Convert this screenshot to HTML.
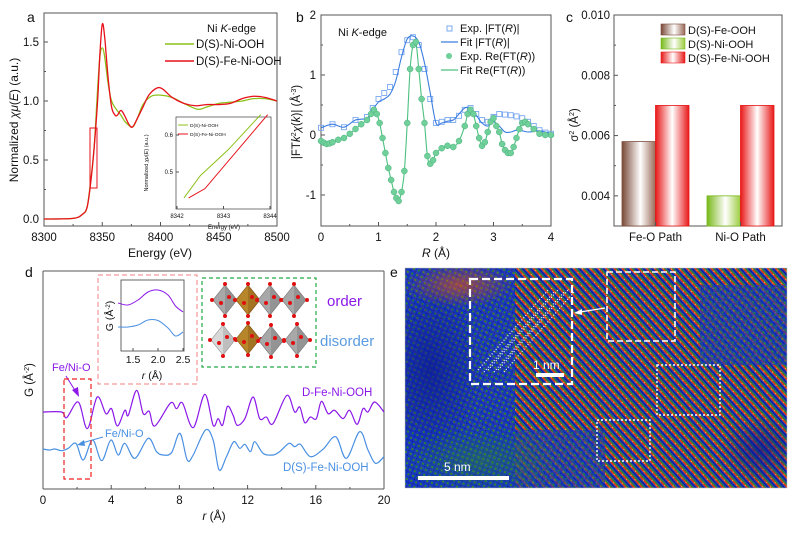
<!DOCTYPE html>
<html><head><meta charset="utf-8"><style>
html,body{margin:0;padding:0;background:#fff;}
svg{display:block;font-family:"Liberation Sans",Arial,sans-serif;}
</style></head><body>
<svg id="fig" width="800" height="534" viewBox="0 0 800 534" xmlns="http://www.w3.org/2000/svg">
<defs>
<linearGradient id="gBrown" x1="0" x2="1" y1="0" y2="0"><stop offset="0" stop-color="#7a4a38"/><stop offset="0.55" stop-color="#ffffff"/><stop offset="1" stop-color="#9a6a58"/></linearGradient>
<linearGradient id="gGreen" x1="0" x2="1" y1="0" y2="0"><stop offset="0" stop-color="#78b81a"/><stop offset="0.55" stop-color="#ffffff"/><stop offset="1" stop-color="#9ccc40"/></linearGradient>
<linearGradient id="gRed" x1="0" x2="1" y1="0" y2="0"><stop offset="0" stop-color="#e81818"/><stop offset="0.5" stop-color="#ffffff"/><stop offset="1" stop-color="#e81818"/></linearGradient>
<pattern id="stripes" width="6" height="6" patternUnits="userSpaceOnUse" patternTransform="rotate(-42)">
<rect width="6" height="6" fill="#1838c8"/>
<rect x="0" y="0" width="1.8" height="6" fill="#e83a10"/>
<rect x="1.8" y="0" width="1.4" height="6" fill="#2a8c2a"/>
<rect x="4.2" y="0" width="0.8" height="6" fill="#0c1a80"/>
<rect x="0.5" y="1" width="0.9" height="1" fill="#ffd040"/>
</pattern>
<pattern id="dots" width="5" height="5" patternUnits="userSpaceOnUse" patternTransform="rotate(20)">
<rect width="5" height="5" fill="#1434c8"/>
<rect x="0" y="0" width="2" height="2" fill="#2d8a2d"/>
<rect x="3" y="3" width="1" height="1" fill="#0a1a70"/>
</pattern>
<radialGradient id="blueDark" cx="0.5" cy="0.5" r="0.5"><stop offset="0" stop-color="#0a1890" stop-opacity="0.7"/><stop offset="1" stop-color="#0a1890" stop-opacity="0"/></radialGradient>
<radialGradient id="orangeTop" cx="0.5" cy="0.5" r="0.5"><stop offset="0" stop-color="#e85010" stop-opacity="0.6"/><stop offset="1" stop-color="#e85010" stop-opacity="0"/></radialGradient>
<radialGradient id="greenMid" cx="0.5" cy="0.5" r="0.5"><stop offset="0" stop-color="#2d8a2d" stop-opacity="0.45"/><stop offset="1" stop-color="#2d8a2d" stop-opacity="0"/></radialGradient>
<clipPath id="clipE"><rect x="405" y="268" width="382" height="220"/></clipPath>
<clipPath id="clipLeft"><rect x="405" y="268" width="110" height="220"/></clipPath>
</defs>
<g id="layer"></g>
</svg>
<script>
// ===== Panel a data =====
const aEnergyRed = [8300,8325,8333,8337,8340,8343,8346,8348,8350,8352,8355,8358,8361,8363,8366,8369,8373,8376,8380,8385,8390,8397,8402,8410,8420,8430,8440,8450,8460,8470,8480,8490,8500];
const aMuRed     = [0,0.005,0.04,0.1,0.3,0.6,1.0,1.4,1.65,1.55,1.2,0.95,0.88,0.88,0.92,0.88,0.8,0.78,0.85,0.95,1.05,1.11,1.1,1.03,0.98,0.96,0.97,0.97,0.98,1.02,1.04,1.03,1.0];
const aEnergyGreen = [8300,8325,8333,8337,8340,8343,8346,8348,8350,8352,8355,8358,8362,8366,8370,8376,8380,8385,8392,8400,8410,8420,8432,8440,8450,8460,8470,8480,8490,8500];
const aMuGreen     = [0,0.005,0.04,0.1,0.32,0.6,1.1,1.38,1.45,1.38,1.15,1.0,0.93,0.88,0.82,0.78,0.85,0.97,1.04,1.05,1.03,0.98,0.93,0.95,0.98,0.99,1.0,1.02,1.02,1.0];
const aXTicks = [8300,8350,8400,8450,8500];
const aYTicks = [0.0,0.5,1.0,1.5];
const insetEGreen = [8342.15,8342.5,8343.1,8343.8];
const insetMuGreen = [0.43,0.49,0.56,0.655];
const insetERed = [8342.25,8342.6,8343.95];
const insetMuRed = [0.43,0.455,0.655];
const insetXTicks = [8342,8343,8344];
const insetYTicks = [0.5,0.6];
// ===== Panel b data =====
const bR_abs = [0,0.2,0.4,0.6,0.8,0.9,1.0,1.1,1.2,1.3,1.4,1.5,1.6,1.7,1.8,1.9,2.0,2.1,2.2,2.3,2.4,2.5,2.6,2.7,2.8,2.9,3.0,3.1,3.2,3.3,3.4,3.5,3.6,3.7,3.8,3.9,4.0];
const bExpAbs = [0.12,0.18,0.13,0.25,0.3,0.45,0.6,0.7,0.8,1.05,1.38,1.58,1.63,1.5,1.1,0.6,0.2,0.22,0.25,0.25,0.32,0.42,0.45,0.35,0.25,0.22,0.3,0.35,0.34,0.33,0.31,0.28,0.22,0.15,0.08,0.04,0.02];
const bFitAbs = [0.12,0.18,0.13,0.25,0.28,0.42,0.55,0.6,0.68,0.9,1.3,1.6,1.65,1.55,1.2,0.7,0.2,0.2,0.23,0.25,0.35,0.45,0.45,0.33,0.2,0.15,0.22,0.15,0.05,0.05,0.08,0.07,0.05,0.06,0.07,0.05,0.02];
const bR_re = [0,0.05,0.1,0.15,0.2,0.3,0.4,0.5,0.6,0.7,0.8,0.87,0.92,0.97,1.02,1.07,1.12,1.17,1.22,1.27,1.31,1.35,1.4,1.45,1.5,1.55,1.6,1.65,1.7,1.75,1.8,1.85,1.9,1.95,2.0,2.1,2.2,2.3,2.4,2.5,2.55,2.6,2.65,2.7,2.75,2.8,2.85,2.9,2.95,3.0,3.05,3.1,3.15,3.2,3.25,3.3,3.35,3.4,3.45,3.5,3.55,3.6,3.7,3.8,3.9,4.0];
const bExpRe = [-0.1,-0.13,-0.15,-0.14,-0.12,-0.08,-0.05,0.02,0.1,0.18,0.25,0.35,0.42,0.35,0.2,-0.05,-0.3,-0.55,-0.75,-0.95,-1.05,-1.1,-0.95,-0.6,0.2,1.1,1.5,1.55,1.1,0.6,0.2,-0.35,-0.48,-0.42,-0.3,-0.22,-0.18,-0.2,-0.1,0.15,0.35,0.42,0.35,0.15,-0.05,-0.18,-0.12,0.05,0.22,0.28,0.15,0.05,-0.15,-0.25,-0.3,-0.3,-0.2,-0.05,0.1,0.2,0.22,0.18,0.1,0.02,0.0,0.0];
const bXTicks = [0,1,2,3,4];
const bYTicks = [-1,0,1,2];
// ===== Panel c data =====
const cCategories = ["Fe-O Path","Ni-O Path"];
const cSeries1 = [0.0058,0.0040];
const cSeries2 = [0.0070,0.0070];
const cYTicks = [0.004,0.006,0.008,0.010];
// ===== Panel d data =====
const dR_purple = [0,1.09,1.39,2.07,2.6,3.18,3.69,4.02,4.36,4.8,5.0,5.49,5.88,6.23,6.56,7.48,7.83,8.18,8.81,9.49,9.98,10.27,10.53,10.82,11.15,11.39,11.84,12.32,12.71,13.1,13.49,14.3,14.76,15.06,15.35,15.68,16.03,16.33,16.72,17.1,17.6,17.98,18.42,18.77,19.06,19.45,20];
const dG_purple = [0,0,-1.7,3.0,-5.0,4.5,-0.5,1.0,-4.2,0.5,-1.0,6.5,-0.5,0.2,-4.2,2.7,1.0,2.7,-4.7,5.3,-4.0,-2.0,-4.0,1.7,-1.0,-4.0,-2.0,4.5,-2.0,-1.5,-3.5,5.0,0,1.5,-3.2,-1.5,-2.0,3.2,-0.5,0.5,-2.0,0.5,-3.7,1.0,0,3.0,0];
const dR_blue = [0,0.4,0.7,1.1,1.48,1.93,2.36,2.91,3.44,3.98,4.41,4.8,5.39,6.17,6.66,7.05,7.54,8.03,8.46,8.81,9.53,9.98,10.33,10.76,11.19,11.54,11.84,12.17,12.42,12.91,13.49,13.88,14.43,14.76,15.1,15.68,16.42,17.17,17.79,18.57,19.06,19.5,20];
const dG_blue = [0.3,0,0.3,-0.2,0.5,2.0,-3.0,3.0,-3.2,3.0,-1.5,2.0,-2.5,3.5,-0.5,-1.5,-0.8,5.0,-3.0,-1.5,6.0,3.0,-6.0,-2.0,2.5,0.5,1.7,-0.5,2.5,-1.0,-1.5,-0.5,2.0,1.0,1.7,-2.0,0.2,4.0,-2.5,5.5,0,-4.0,-2.0];
const dXTicks = [0,4,8,12,16,20];
const insetDR = [1.2,1.4,1.6,1.8,2.0,2.2,2.35,2.5];
const insetDPurple = [0.0,-0.2,0.3,1.1,1.3,0.8,-0.3,-0.9];
const insetDBlue = [-2.4,-2.4,-2.2,-1.7,-1.75,-2.5,-3.3,-2.9];
const insetDXTicks = [1.5,2.0,2.5];

const NS='http://www.w3.org/2000/svg';
const L=document.getElementById('layer');
function mk(tag,attrs,parent){const e=document.createElementNS(NS,tag);for(const k in attrs)e.setAttribute(k,attrs[k]);(parent||L).appendChild(e);return e;}
function txt(x,y,s,size,attrs,parent){const e=mk('text',Object.assign({x:x,y:y,'font-size':size,fill:'#111'},attrs||{}),parent);e.innerHTML=s;return e;}
function lin(d0,d1,r0,r1){return v=>r0+(v-d0)/(d1-d0)*(r1-r0);}
function smooth(pts){let d='M'+pts[0][0].toFixed(2)+','+pts[0][1].toFixed(2);for(let i=0;i<pts.length-1;i++){const p0=pts[i-1]||pts[i],p1=pts[i],p2=pts[i+1],p3=pts[i+2]||p2;const c1=[p1[0]+(p2[0]-p0[0])/6,p1[1]+(p2[1]-p0[1])/6],c2=[p2[0]-(p3[0]-p1[0])/6,p2[1]-(p3[1]-p1[1])/6];d+='C'+c1[0].toFixed(2)+','+c1[1].toFixed(2)+' '+c2[0].toFixed(2)+','+c2[1].toFixed(2)+' '+p2[0].toFixed(2)+','+p2[1].toFixed(2);}return d;}
function frame(x0,y0,x1,y1,g){mk('rect',{x:x0,y:y0,width:x1-x0,height:y1-y0,fill:'none',stroke:'#555','stroke-width':1},g);}

// ===== Panel a =====
const ga=mk('g',{});
const ax=lin(8300,8500,44,277), ay=lin(0,1.5,219,42);
frame(44,13,277,226,ga);
aXTicks.forEach(v=>{mk('line',{x1:ax(v),x2:ax(v),y1:226,y2:222,stroke:'#555'},ga);const t=txt(ax(v),241,v,11.5,{'text-anchor':'middle'},ga);});
[8325,8375,8425,8475].forEach(v=>mk('line',{x1:ax(v),x2:ax(v),y1:226,y2:224,stroke:'#555'},ga));
aYTicks.forEach(v=>{mk('line',{x1:44,x2:48,y1:ay(v),y2:ay(v),stroke:'#555'},ga);const t=txt(39,ay(v)+4,v.toFixed(1),11.5,{'text-anchor':'end'},ga);});
[0.25,0.75,1.25].forEach(v=>mk('line',{x1:44,x2:46,y1:ay(v),y2:ay(v),stroke:'#555'},ga));
let t=txt(160,257,'Energy (eV)',12,{'text-anchor':'middle'},ga);
t=txt(0,0,'Normalized <tspan font-style="italic">χμ</tspan>(<tspan font-style="italic">E</tspan>) (a.u.)',12,{'text-anchor':'middle',transform:'translate(18,120) rotate(-90)'},ga);
let p=mk('path',{d:smooth(aEnergyGreen.map((e,i)=>[ax(e),ay(aMuGreen[i])])),fill:'none',stroke:'#8cc21a','stroke-width':1.3},ga);
p=mk('path',{d:smooth(aEnergyRed.map((e,i)=>[ax(e),ay(aMuRed[i])])),fill:'none',stroke:'#e8101a','stroke-width':1.3},ga);
p=mk('rect',{x:90,y:128,width:7,height:60,fill:'none',stroke:'#e8101a','stroke-width':1},ga);
txt(207,32,'Ni <tspan font-style="italic">K</tspan>-edge',11,{},ga);
mk('line',{x1:165,x2:194,y1:44,y2:44,stroke:'#8cc21a','stroke-width':1.5},ga);
t=txt(196,48,'D(S)-Ni-OOH',11.5,{},ga);
mk('line',{x1:165,x2:194,y1:61,y2:61,stroke:'#e8101a','stroke-width':1.5},ga);
t=txt(196,65,'D(S)-Fe-Ni-OOH',11.5,{},ga);
const gi=mk('g',{},ga);
const ix=lin(8342,8344,177,270), iy=lin(0.5,0.6,172,135);
mk('rect',{x:176,y:117,width:95,height:92,fill:'#fff',stroke:'#555','stroke-width':0.8},gi);
insetXTicks.forEach(v=>{mk('line',{x1:ix(v),x2:ix(v),y1:209,y2:206,stroke:'#555'},gi);txt(ix(v),218,v,6,{'text-anchor':'middle'},gi);});
insetYTicks.forEach(v=>{mk('line',{x1:176,x2:179,y1:iy(v),y2:iy(v),stroke:'#555'},gi);txt(173,iy(v)+2,v.toFixed(1),6,{'text-anchor':'end'},gi);});
txt(224,221+8,'Energy (eV)',6,{'text-anchor':'middle'},gi);
txt(0,0,'Normalized <tspan font-style="italic">χμ</tspan>(<tspan font-style="italic">E</tspan>) (a.u.)',5.5,{'text-anchor':'middle',transform:'translate(148,163) rotate(-90)'},gi);
mk('polyline',{points:insetEGreen.map((e,i)=>ix(e)+','+iy(insetMuGreen[i])).join(' '),fill:'none',stroke:'#8cc21a','stroke-width':1},gi);
mk('polyline',{points:insetERed.map((e,i)=>ix(e)+','+iy(insetMuRed[i])).join(' '),fill:'none',stroke:'#e8101a','stroke-width':1},gi);
mk('line',{x1:178,x2:188,y1:125,y2:125,stroke:'#8cc21a'},gi);txt(190,127,'D(S)-Ni-OOH',4.8,{},gi);
mk('line',{x1:178,x2:188,y1:134,y2:134,stroke:'#e8101a'},gi);txt(190,136,'D(S)-Fe-Ni-OOH',4.8,{},gi);

// ===== Panel b =====
const gb=mk('g',{});
const bx=lin(0,4,321,551), by=lin(0,1,135,75);
frame(321,15,551,226,gb);
bXTicks.forEach(v=>{mk('line',{x1:bx(v),x2:bx(v),y1:226,y2:222,stroke:'#555'},gb);t=txt(bx(v),241,v,11.5,{'text-anchor':'middle'},gb);});
[0.5,1.5,2.5,3.5].forEach(v=>mk('line',{x1:bx(v),x2:bx(v),y1:226,y2:224,stroke:'#555'},gb));
bYTicks.forEach(v=>{mk('line',{x1:321,x2:325,y1:by(v),y2:by(v),stroke:'#555'},gb);t=txt(316,by(v)+4,v,11.5,{'text-anchor':'end'},gb);});
[-0.5,0.5,1.5].forEach(v=>mk('line',{x1:321,x2:323,y1:by(v),y2:by(v),stroke:'#555'},gb));
t=txt(436,257,'<tspan font-style="italic">R</tspan> (Å)',12,{'text-anchor':'middle'},gb);
t=txt(0,0,'|FT<tspan font-style="italic">k</tspan><tspan font-size="7" dy="-4">2</tspan><tspan dy="4" font-style="italic">χ</tspan>(<tspan font-style="italic">k</tspan>)| (Å<tspan font-size="7" dy="-4">-3</tspan><tspan dy="4">)</tspan>',11.5,{'text-anchor':'middle',transform:'translate(300,122) rotate(-90)'},gb);
bR_abs.forEach((r,i)=>{const q=mk('rect',{x:bx(r)-2.5,y:by(bExpAbs[i])-2.5,width:5,height:5,fill:'none',stroke:'#7aa8f0','stroke-width':0.9},gb);});
p=mk('path',{d:smooth(bR_abs.map((r,i)=>[bx(r),by(bFitAbs[i])])),fill:'none',stroke:'#3b7de0','stroke-width':1.1},gb);
p=mk('path',{d:smooth(bR_re.map((r,i)=>[bx(r),by(bExpRe[i])])),fill:'none',stroke:'#4cc080','stroke-width':1.1},gb);
bR_re.forEach((r,i)=>{const c=mk('circle',{cx:bx(r),cy:by(bExpRe[i]),r:3,fill:'#6fd09a',stroke:'#4cb07e','stroke-width':0.5},gb);});
txt(338,36,'Ni <tspan font-style="italic">K</tspan>-edge',11,{},gb);
mk('rect',{x:447,y:26,width:5,height:5,fill:'none',stroke:'#7aa8f0'},gb);
t=txt(460,32,'Exp. |FT(<tspan font-style="italic">R</tspan>)|',11,{},gb);
mk('line',{x1:441,x2:458,y1:42,y2:42,stroke:'#3b7de0','stroke-width':1.2},gb);
t=txt(460,46,'Fit |FT(<tspan font-style="italic">R</tspan>)|',11,{},gb);
mk('circle',{cx:449,cy:56,r:3,fill:'#6fd09a'},gb);
t=txt(460,60,'Exp. Re(FT(<tspan font-style="italic">R</tspan>))',11,{},gb);
mk('line',{x1:441,x2:458,y1:70,y2:70,stroke:'#4cc080','stroke-width':1.2},gb);
t=txt(460,74,'Fit Re(FT(<tspan font-style="italic">R</tspan>))',11,{},gb);

// ===== Panel c =====
const gc=mk('g',{});
const cy=lin(0.003,0.010,226,15);
const cBandX=i=>622+i*85; const barW=33.5;
frame(614,15,782,226,gc);
cYTicks.forEach(v=>{mk('line',{x1:614,x2:618,y1:cy(v),y2:cy(v),stroke:'#555'},gc);t=txt(610,cy(v)+4,v.toFixed(3),11.5,{'text-anchor':'end'},gc);});
[0.005,0.007,0.009].forEach(v=>mk('line',{x1:614,x2:616,y1:cy(v),y2:cy(v),stroke:'#555'},gc));
const c1fill=['url(#gBrown)','url(#gGreen)'], c1stroke=['#7a4a38','#78b81a'];
cCategories.forEach((c,i)=>{
 const x0=cBandX(i);
 let r=mk('rect',{x:x0,y:cy(cSeries1[i]),width:barW,height:226-cy(cSeries1[i]),fill:c1fill[i],stroke:c1stroke[i],'stroke-width':0.8},gc);
 
 r=mk('rect',{x:x0+barW,y:cy(cSeries2[i]),width:barW,height:226-cy(cSeries2[i]),fill:'url(#gRed)',stroke:'#e81818','stroke-width':0.8},gc);
 
 mk('line',{x1:x0+barW,x2:x0+barW,y1:226,y2:222,stroke:'#555'},gc);
 t=txt(x0+barW,241,c,11.5,{'text-anchor':'middle'},gc);
});
t=txt(0,0,'σ<tspan font-size="7" dy="-4">2</tspan><tspan dy="4"> (Å</tspan><tspan font-size="7" dy="-4">2</tspan><tspan dy="4">)</tspan>',11.5,{'text-anchor':'middle',transform:'translate(578,125) rotate(-90)'},gc);
[['url(#gBrown)','#7a4a38','D(S)-Fe-OOH'],['url(#gGreen)','#78b81a','D(S)-Ni-OOH'],['url(#gRed)','#e81818','D(S)-Fe-Ni-OOH']].forEach((l,i)=>{
 mk('rect',{x:661,y:24+i*14,width:24,height:11,fill:l[0],stroke:l[1],'stroke-width':0.6},gc);
 t=txt(688,34+i*14,l[2],11,{},gc);
});

// ===== Panel d =====
const gd=mk('g',{});
const dx=lin(0,20,43,384), gScale=3.33;
mk('line',{x1:43,x2:43,y1:271,y2:489,stroke:'#555'},gd);
mk('line',{x1:43,x2:384,y1:489,y2:489,stroke:'#555'},gd);
mk('line',{x1:43,x2:384,y1:271,y2:271,stroke:'#555'},gd);
mk('line',{x1:384,x2:384,y1:271,y2:489,stroke:'#555'},gd);
dXTicks.forEach(v=>{mk('line',{x1:dx(v),x2:dx(v),y1:489,y2:485,stroke:'#555'},gd);t=txt(dx(v),504,v,11.5,{'text-anchor':'middle'},gd);});
[2,6,10,14,18].forEach(v=>mk('line',{x1:dx(v),x2:dx(v),y1:489,y2:487,stroke:'#555'},gd));
t=txt(214,520,'<tspan font-style="italic">r</tspan> (Å)',12,{'text-anchor':'middle'},gd);
t=txt(0,0,'G (Å<tspan font-size="7" dy="-4">-2</tspan><tspan dy="4">)</tspan>',11.5,{'text-anchor':'middle',transform:'translate(33,380) rotate(-90)'},gd);
p=mk('path',{d:smooth(dR_purple.map((r,i)=>[dx(r),412-dG_purple[i]*gScale])),fill:'none',stroke:'#8b18e8','stroke-width':1.2},gd);
p=mk('path',{d:smooth(dR_blue.map((r,i)=>[dx(r),450-dG_blue[i]*gScale])),fill:'none',stroke:'#4a90e2','stroke-width':1.2},gd);
txt(302,396,'D-Fe-Ni-OOH',11.5,{fill:'#8b18e8'},gd);
txt(283,471,'D(S)-Fe-Ni-OOH',11.5,{fill:'#4a90e2'},gd);
t=txt(52,371,'Fe/Ni-O',11,{fill:'#8b18e8'},gd);
mk('line',{x1:66,y1:376,x2:76,y2:392,stroke:'#8b18e8','stroke-width':1},gd);
mk('polygon',{points:'79,397 72,390 78,387',fill:'#8b18e8'},gd);
t=txt(105,437,'Fe/Ni-O',11,{fill:'#4a90e2'},gd);
mk('line',{x1:103,y1:437,x2:82,y2:443,stroke:'#4a90e2','stroke-width':1},gd);
mk('polygon',{points:'77,445 84,440 85,446',fill:'#4a90e2'},gd);
mk('rect',{x:64,y:379,width:27,height:100,fill:'none',stroke:'#ee2222','stroke-width':1.2,'stroke-dasharray':'5,3'},gd);
mk('rect',{x:98,y:275,width:99,height:109,fill:'none',stroke:'#f08080','stroke-width':1,'stroke-dasharray':'5,3'},gd);
mk('rect',{x:202,y:278,width:114,height:89,fill:'none',stroke:'#22aa44','stroke-width':1.2,'stroke-dasharray':'4,3'},gd);
const gdi=mk('g',{},gd);
const idx=lin(1.5,2.5,133,183), idy=v=>303-v*10;
mk('rect',{x:121,y:280,width:63,height:71,fill:'#fff',stroke:'#555','stroke-width':0.9},gdi);
insetDXTicks.forEach(v=>{mk('line',{x1:idx(v),x2:idx(v),y1:351,y2:348,stroke:'#555'},gdi);txt(idx(v),363,v.toFixed(1),10.5,{'text-anchor':'middle'},gdi);});
txt(152,379,'<tspan font-style="italic">r</tspan> (Å)',10.5,{'text-anchor':'middle'},gdi);
txt(0,0,'G (Å<tspan font-size="6" dy="-3">-2</tspan><tspan dy="3">)</tspan>',10.5,{'text-anchor':'middle',transform:'translate(113,316) rotate(-90)'},gdi);
mk('path',{d:smooth(insetDR.map((r,i)=>[idx(r),idy(insetDPurple[i])])),fill:'none',stroke:'#8b18e8','stroke-width':1},gdi);
mk('path',{d:smooth(insetDR.map((r,i)=>[idx(r),idy(insetDBlue[i])])),fill:'none',stroke:'#4a90e2','stroke-width':1},gdi);
const go=mk('g',{},gd);
function octa(cx,cy,col,dark){
 mk('polygon',{points:`${cx},${cy-15} ${cx+12},${cy} ${cx},${cy+15} ${cx-12},${cy}`,fill:col,stroke:dark,'stroke-width':0.6},go);
 mk('polygon',{points:`${cx},${cy-15} ${cx+12},${cy} ${cx},${cy+15}`,fill:dark,opacity:0.35},go);
 [[0,-16],[13,0],[0,16],[-13,0],[4,-3],[-4,3]].forEach(o=>mk('circle',{cx:cx+o[0],cy:cy+o[1],r:2,fill:'#e01010'},go));
}
[[225,300,'#a8a8a8','#707070'],[248,300,'#b8862a','#7a5010'],[270,300,'#a8a8a8','#707070'],[294,300,'#a8a8a8','#707070']].forEach(o=>octa(...o));
[[223,340,'#d8d8d8','#909090'],[248,339,'#b8862a','#7a5010'],[271,341,'#a8a8a8','#707070'],[297,340,'#a8a8a8','#707070']].forEach(o=>octa(...o));
t=txt(327,306,'order',15,{fill:'#8b18e8'},gd);
t=txt(320,346,'disorder',15,{fill:'#5b9be0'},gd);

// ===== Panel e =====
const ge=mk('g',{'clip-path':'url(#clipE)'});
mk('rect',{x:405,y:268,width:382,height:220,fill:'url(#stripes)'},ge);
mk('rect',{x:405,y:268,width:110,height:220,fill:'url(#dots)',opacity:0.85},ge);
mk('rect',{x:405,y:430,width:200,height:60,fill:'url(#dots)',opacity:0.6},ge);
mk('rect',{x:700,y:285,width:90,height:80,fill:'url(#dots)',opacity:0.6},ge);
mk('ellipse',{cx:430,cy:370,rx:50,ry:90,fill:'url(#blueDark)'},ge);
mk('ellipse',{cx:460,cy:285,rx:55,ry:22,fill:'url(#orangeTop)'},ge);
mk('ellipse',{cx:760,cy:450,rx:40,ry:35,fill:'url(#blueDark)'},ge);
mk('ellipse',{cx:480,cy:460,rx:80,ry:35,fill:'url(#greenMid)'},ge);
mk('rect',{x:405,y:268,width:382,height:220,fill:'none',stroke:'#bbb','stroke-width':0.5});
mk('rect',{x:470,y:279,width:102,height:105,fill:'none',stroke:'#fff','stroke-width':2.2,'stroke-dasharray':'8,4'},ge);
for(let k=0;k<3;k++){mk('line',{x1:478+k*10,y1:370,x2:548+k*10,y2:290,stroke:'#fff','stroke-width':1.2,'stroke-dasharray':'1,2'},ge);mk('line',{x1:484+k*10,y1:372,x2:554+k*10,y2:292,stroke:'#fff','stroke-width':1.2,'stroke-dasharray':'1,2'},ge);}
mk('rect',{x:607,y:272,width:68,height:69,fill:'none',stroke:'#fff','stroke-width':1.6,'stroke-dasharray':'6,3'},ge);
mk('rect',{x:657,y:365,width:63,height:50,fill:'none',stroke:'#fff','stroke-width':1.4,'stroke-dasharray':'2,2'},ge);
mk('rect',{x:597,y:420,width:53,height:41,fill:'none',stroke:'#fff','stroke-width':1.4,'stroke-dasharray':'2,2'},ge);
mk('line',{x1:605,y1:308,x2:580,y2:312,stroke:'#fff','stroke-width':1.2},ge);
mk('polygon',{points:'574,313 582,309 582,315',fill:'#fff'},ge);
mk('rect',{x:536,y:373,width:28,height:4,fill:'#fff'},ge);
t=txt(533,369,'1 nm',12,{fill:'#fff'},ge);
mk('rect',{x:418,y:476,width:91,height:4,fill:'#fff'},ge);
t=txt(444,471,'5 nm',12,{fill:'#fff'},ge);

[['a',27,22],['b',296,22],['c',566,22],['d',25,277],['e',390,277]].forEach(l=>{const e=txt(l[1],l[2],l[0],14,{},L);});
</script>
</body></html>
